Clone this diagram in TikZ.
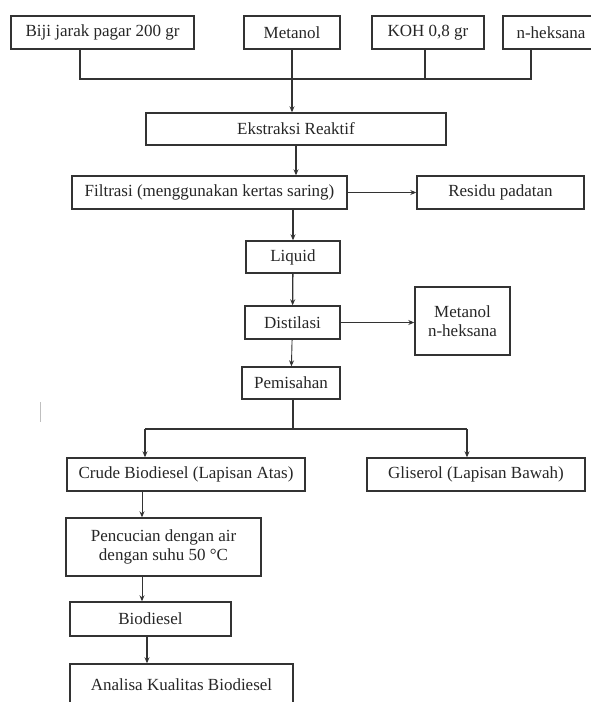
\documentclass[tikz,border=0pt]{standalone}
\usepackage{fontspec}
\setmainfont{Liberation Serif}
\usetikzlibrary{arrows.meta}

\begin{document}
\begin{tikzpicture}[
  x=1pt, y=-1pt,
  >={Stealth[length=6pt,width=5pt]},
  every node/.style={font=\fontsize{17}{19.5}\selectfont, text=black!85},
  kotak/.style={draw=black!80, line width=1.4pt, inner sep=0pt, align=center},
  garis/.style={draw=black!80, line width=1.3pt}]
\useasboundingbox (0,0) rectangle (591,702);

\node[kotak, minimum width=183, minimum height=33] (biji) at (102.5,32.5) {Biji jarak pagar 200 gr};
\node[kotak, minimum width=96, minimum height=33] (met) at (292,32.5) {Metanol};
\node[kotak, minimum width=112, minimum height=33] (koh) at (428,32.5) {KOH 0,8 gr};
\node[kotak, minimum width=96, minimum height=33] (hek) at (551,32.5) {n-heksana};

\node[kotak, minimum width=300, minimum height=32] (eks) at (296,129) {Ekstraksi Reaktif};
\node[kotak, minimum width=275, minimum height=33] (fil) at (209.5,192.5) {Filtrasi (menggunakan kertas saring)};
\node[kotak, minimum width=167, minimum height=33] (res) at (500.5,192.5) {Residu padatan};
\node[kotak, minimum width=94, minimum height=32] (liq) at (293,257) {Liquid};
\node[kotak, minimum width=95, minimum height=33] (dis) at (292.5,322.5) {Distilasi};
\node[kotak, minimum width=95, minimum height=68] (mh) at (462.5,321) {Metanol\\n-heksana};
\node[kotak, minimum width=98, minimum height=32] (pem) at (291,383) {Pemisahan};

\node[kotak, minimum width=238, minimum height=33] (cru) at (186,474.5) {Crude Biodiesel (Lapisan Atas)};
\node[kotak, minimum width=218, minimum height=33] (gli) at (476,474.5) {Gliserol (Lapisan Bawah)};
\node[kotak, minimum width=195, minimum height=58] (pen) at (163.5,547) {Pencucian dengan air\\dengan suhu 50 °C};
\node[kotak, minimum width=161, minimum height=34] (bio) at (150.5,619) {Biodiesel};
\node[kotak, minimum width=223, minimum height=42] (ana) at (181.5,685) {Analisa Kualitas Biodiesel};

% garis pengumpul bahan
\coordinate (busL) at (80,79);
\coordinate (busR) at (531,79);
\draw[garis] (biji.south -| busL) -- (busL) -- (busR) -- (hek.south -| busR);
\draw[garis] (koh.south -| 425,0) -- (425,79);
\draw[garis, ->] (met.south) -- (eks.north -| met.south);

\draw[garis, ->] (eks.south) -- (eks.south |- fil.north);
\draw[garis, line width=0.9pt, ->] (fil.east) -- (res.west);
\draw[garis, ->] (fil.south -| liq) -- (liq.north);
\draw[garis, ->] (liq) -- (dis);
\draw[garis, ->] (dis.east) -- (dis.east -| mh.west);
\draw[garis, line width=0.9pt, ->] (dis) -- (pem);

% pemisahan
\coordinate (pisah) at (293,429);
\coordinate (kiri) at (145,429);
\coordinate (kanan) at (467,429);
\draw[garis] (pem.south -| pisah) -- (pisah);
\draw[garis] (kiri) -- (kanan);
\draw[garis, ->] (kiri) -- (kiri |- cru.north);
\draw[garis, ->] (kanan) -- (kanan |- gli.north);

\draw[garis, line width=0.9pt, ->] (cru.south -| 142,0) -- (pen.north -| 142,0);
\draw[garis, line width=0.9pt, ->] (pen.south -| 142,0) -- (bio.north -| 142,0);
\draw[garis, ->] (bio.south -| 147,0) -- (ana.north -| 147,0);

\draw[gray!50, line width=1pt] (40,402) -- (40,422);
\end{tikzpicture}
\end{document}
